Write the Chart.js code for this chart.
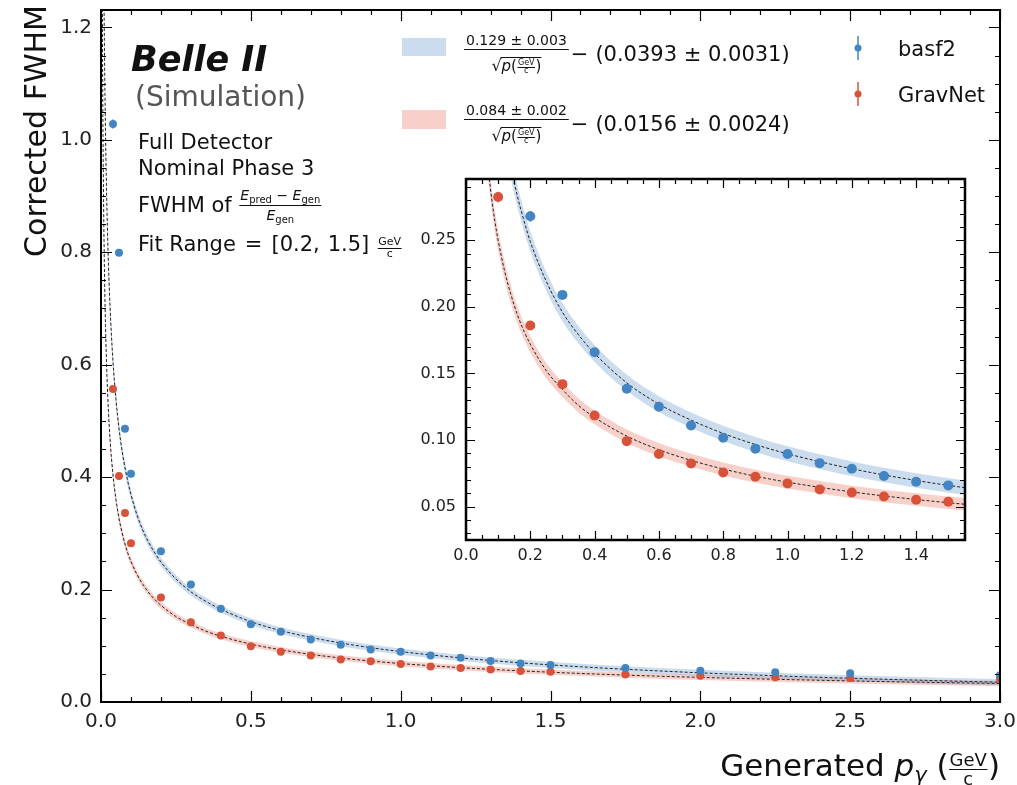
<!DOCTYPE html>
<html>
<head>
<meta charset="utf-8">
<script src="https://cdn.jsdelivr.net/npm/chart.js@4.4.1/dist/chart.umd.min.js"></script>
<style>
  html, body { margin: 0; padding: 0; background: #fff; }
  #wrap { position: relative; width: 1017px; height: 785px; }
  #main { position: absolute; left: 0; top: 0; }
  #inset { position: absolute; left: 400px; top: 170px; }
</style>
</head>
<body>
<div id="wrap">
  <canvas id="main" width="1017" height="785"></canvas>
  <canvas id="inset" width="575" height="395"></canvas>
</div>
<script>
// =============================================================================
// data
// =============================================================================
const pointX      = [0.04, 0.06, 0.08, 0.10, 0.2, 0.3, 0.4, 0.5, 0.6, 0.7, 0.8, 0.9, 1.0, 1.1, 1.2, 1.3, 1.4, 1.5, 1.75, 2.0, 2.25, 2.5, 3.0];
const basf2Y      = [1.028, 0.799, 0.486, 0.406, 0.268, 0.209, 0.166, 0.1385, 0.125, 0.111, 0.1017, 0.0935, 0.0895, 0.0827, 0.0785, 0.073, 0.0687, 0.066, 0.0605, 0.0558, 0.0528, 0.051, 0.0475];
const basf2Err    = [0.008, 0.004, 0.004, 0.006, 0.004, 0.002, 0.002, 0.0015, 0.0015, 0.0015, 0.0015, 0.0015, 0.0015, 0.0015, 0.0015, 0.0015, 0.0015, 0.0015, 0.0015, 0.0015, 0.0015, 0.002, 0.002];
const gravnetY    = [0.557, 0.402, 0.336, 0.2825, 0.186, 0.142, 0.1185, 0.0992, 0.0895, 0.0825, 0.0757, 0.0725, 0.0675, 0.063, 0.0607, 0.0577, 0.0552, 0.0537, 0.0487, 0.0469, 0.044, 0.0427, 0.041];
const gravnetErr  = [0.004, 0.003, 0.003, 0.004, 0.002, 0.0015, 0.0015, 0.001, 0.001, 0.001, 0.001, 0.001, 0.001, 0.001, 0.001, 0.001, 0.001, 0.001, 0.001, 0.001, 0.001, 0.0015, 0.0015];

// fit curves + band half widths
const fitX        = [0.004, 0.005, 0.006, 0.0075, 0.01, 0.0125, 0.015, 0.02, 0.025, 0.03, 0.04, 0.05, 0.06, 0.07, 0.08, 0.09, 0.1, 0.12, 0.14, 0.16, 0.18, 0.2, 0.25, 0.3, 0.35, 0.4, 0.5, 0.6, 0.7, 0.8, 0.9, 1.0, 1.2, 1.4, 1.6, 1.8, 2.0, 2.25, 2.5, 2.75, 3.0];
const basf2Fit    = [2.000, 1.785, 1.626, 1.450, 1.251, 1.115, 1.014, 0.873, 0.777, 0.705, 0.606, 0.538, 0.487, 0.448, 0.417, 0.391, 0.369, 0.333, 0.305, 0.283, 0.265, 0.249, 0.219, 0.196, 0.179, 0.165, 0.143, 0.127, 0.115, 0.105, 0.0967, 0.0897, 0.0785, 0.0697, 0.0627, 0.0569, 0.0519, 0.0467, 0.0423, 0.0385, 0.0352];
const basf2Band   = [0.05, 0.045, 0.04, 0.036, 0.03, 0.027, 0.025, 0.021, 0.019, 0.017, 0.015, 0.013, 0.012, 0.011, 0.0105, 0.01, 0.0095, 0.009, 0.0085, 0.008, 0.0078, 0.0075, 0.007, 0.0067, 0.0065, 0.0063, 0.006, 0.006, 0.0058, 0.0057, 0.0056, 0.0056, 0.0055, 0.0055, 0.0055, 0.0055, 0.0055, 0.0055, 0.0055, 0.0055, 0.0055];
const gravnetFit  = [1.313, 1.172, 1.069, 0.954, 0.824, 0.736, 0.670, 0.578, 0.516, 0.469, 0.404, 0.360, 0.327, 0.302, 0.281, 0.264, 0.250, 0.227, 0.209, 0.194, 0.182, 0.172, 0.152, 0.138, 0.126, 0.117, 0.103, 0.0928, 0.0848, 0.0783, 0.0729, 0.0684, 0.0611, 0.0554, 0.0508, 0.0470, 0.0438, 0.0404, 0.0375, 0.0351, 0.0329];
const gravnetBand = [0.035, 0.031, 0.028, 0.025, 0.021, 0.019, 0.017, 0.015, 0.013, 0.012, 0.0105, 0.0095, 0.009, 0.0085, 0.008, 0.0078, 0.0075, 0.007, 0.0067, 0.0064, 0.0062, 0.006, 0.0057, 0.0055, 0.0053, 0.0052, 0.005, 0.005, 0.0049, 0.0048, 0.0048, 0.0048, 0.0047, 0.0047, 0.0047, 0.0047, 0.0047, 0.0047, 0.0047, 0.0047, 0.0047];

// tick labels
const mainXTicks  = [0, 0.5, 1.0, 1.5, 2.0, 2.5, 3.0];
const mainYTicks  = [0, 0.2, 0.4, 0.6, 0.8, 1.0, 1.2];
const insetXTicks = [0, 0.2, 0.4, 0.6, 0.8, 1.0, 1.2, 1.4];
const insetYTicks = [0.05, 0.10, 0.15, 0.20, 0.25];

// =============================================================================
// styles
// =============================================================================
const BLUE = "rgb(66,133,194)";
const RED = "rgb(216,82,58)";
const BLUE_BAND = "rgba(80,140,200,0.3)";
const RED_BAND = "rgba(232,100,80,0.3)";
const FONT = '"DejaVu Sans"';
const F = (size, style) => `${style || ""} ${size}px ${FONT}`.trim();

function steps(from, to, step) {
    const out = [];
    for (let v = from; v <= to + 1e-9; v += step) out.push(+v.toFixed(4));
    return out;
}

// =============================================================================
// datasets
// =============================================================================
function buildDatasets(radius) {
    const pts = (ys) => pointX.map((x, i) => ({ x, y: ys[i] }));
    const curve = (ys, off, sign) => fitX.map((x, i) => ({ x, y: ys[i] + sign * (off ? off[i] : 0) }));
    const bandLine = { borderWidth: 0, pointRadius: 0, cubicInterpolationMode: "monotone", order: 3 };
    const fitLine = { borderColor: "#222", borderWidth: 1, borderDash: [3, 2], pointRadius: 0, fill: false, cubicInterpolationMode: "monotone", order: 2 };
    const marker = (c) => ({ showLine: false, pointRadius: radius, pointBackgroundColor: c, pointBorderColor: c, pointBorderWidth: 0, clip: 0, order: 1 });
    return [
        { ...bandLine, data: curve(basf2Fit, basf2Band, -1), fill: false },
        { ...bandLine, data: curve(basf2Fit, basf2Band, 1), fill: "-1", backgroundColor: BLUE_BAND },
        { ...bandLine, data: curve(gravnetFit, gravnetBand, -1), fill: false },
        { ...bandLine, data: curve(gravnetFit, gravnetBand, 1), fill: "-1", backgroundColor: RED_BAND },
        { ...fitLine, data: curve(basf2Fit, null, 0) },
        { ...fitLine, data: curve(gravnetFit, null, 0) },
        { ...marker(BLUE), data: pts(basf2Y), errY: basf2Err, errColor: BLUE },
        { ...marker(RED), data: pts(gravnetY), errY: gravnetErr, errColor: RED },
    ];
}

// =============================================================================
// small text layout helper (fractions, sub/superscripts, sqrt)
// =============================================================================
function partWidth(ctx, p) {
    if (p.frac) return Math.max(rowWidth(ctx, p.frac[0]), rowWidth(ctx, p.frac[1])) + 2 * (p.pad ?? 3);
    if (p.sqrt) { ctx.font = p.font; return ctx.measureText("√").width + rowWidth(ctx, p.sqrt); }
    ctx.font = p.font;
    return ctx.measureText(p.t).width + (p.gap || 0);
}
function rowWidth(ctx, parts) {
    return parts.reduce((s, p) => s + partWidth(ctx, p), 0);
}
function drawRow(ctx, parts, x, y) {
    let cx = x;
    parts.forEach((p) => {
        const w = partWidth(ctx, p);
        if (p.frac) {
            const [num, den] = p.frac;
            const pad = p.pad ?? 3;
            drawRow(ctx, num, cx + (w - rowWidth(ctx, num)) / 2, y + p.numY);
            drawRow(ctx, den, cx + (w - rowWidth(ctx, den)) / 2, y + p.denY);
            ctx.fillRect(cx + pad / 2, y + p.barY, w - pad, p.barW || 1);
        } else if (p.sqrt) {
            ctx.font = p.font;
            const ws = ctx.measureText("√").width;
            ctx.fillText("√", cx, y);
            drawRow(ctx, p.sqrt, cx + ws, y);
            ctx.fillRect(cx + ws - 1, y + p.topY, w - ws + 1, 1);
        } else {
            ctx.font = p.font;
            ctx.fillText(p.t, cx, y + (p.dy || 0));
        }
        cx += w;
    });
}

// =============================================================================
// plugins
// =============================================================================
const errorBars = {
    id: "errorBars",
    afterDatasetsDraw(chart) {
        const { ctx, chartArea: a, scales: { x, y } } = chart;
        ctx.save();
        ctx.beginPath();
        ctx.rect(a.left, a.top, a.right - a.left, a.bottom - a.top);
        ctx.clip();
        chart.data.datasets.forEach((ds) => {
            if (!ds.errY) return;
            ctx.strokeStyle = ds.errColor;
            ctx.lineWidth = 1.5;
            ds.data.forEach((d, i) => {
                const px = x.getPixelForValue(d.x);
                ctx.beginPath();
                ctx.moveTo(px, y.getPixelForValue(d.y - ds.errY[i]));
                ctx.lineTo(px, y.getPixelForValue(d.y + ds.errY[i]));
                ctx.stroke();
            });
        });
        ctx.restore();
    },
};

function drawFrame(chart, xMajor, xMinor, yMajor, yMinor, bigLen, smallLen, frameWidth) {
    const { ctx, chartArea: a, scales: { x, y } } = chart;
    ctx.save();
    ctx.strokeStyle = "#000";
    ctx.lineWidth = 1.2;
    ctx.beginPath();
    const vTicks = (vals, len) => vals.forEach((v) => {
        const px = Math.round(x.getPixelForValue(v)) + 0.5;
        ctx.moveTo(px, a.bottom); ctx.lineTo(px, a.bottom - len);
        ctx.moveTo(px, a.top); ctx.lineTo(px, a.top + len);
    });
    const hTicks = (vals, len) => vals.forEach((v) => {
        const py = Math.round(y.getPixelForValue(v)) + 0.5;
        ctx.moveTo(a.left, py); ctx.lineTo(a.left + len, py);
        ctx.moveTo(a.right, py); ctx.lineTo(a.right - len, py);
    });
    vTicks(xMajor, bigLen); vTicks(xMinor, smallLen);
    hTicks(yMajor, bigLen); hTicks(yMinor, smallLen);
    ctx.stroke();
    ctx.lineWidth = frameWidth;
    ctx.strokeRect(a.left, a.top, a.right - a.left, a.bottom - a.top);
    ctx.restore();
}

const mainDecor = {
    id: "mainDecor",
    afterDraw(chart) {
        const ctx = chart.ctx;
        drawFrame(chart, mainXTicks, steps(0, 3, 0.1), mainYTicks, steps(0, 1.2, 0.05), 11, 5, 2);

        ctx.save();
        ctx.fillStyle = "#111";
        ctx.textBaseline = "alphabetic";
        ctx.textAlign = "left";

        // experiment label
        ctx.font = F(35, "italic bold");
        ctx.fillText("Belle II", 131, 71);
        ctx.fillStyle = "#555";
        ctx.font = F(28);
        ctx.fillText("(Simulation)", 135, 106);
        ctx.fillStyle = "#111";
        ctx.font = F(21);
        ctx.fillText("Full Detector", 138, 149);
        ctx.fillText("Nominal Phase 3", 138, 175);
        drawRow(ctx, [
            { t: "FWHM of ", font: F(21) },
            { frac: [
                [{ t: "E", font: F(14, "italic") }, { t: "pred", font: F(10), dy: 3 }, { t: " − ", font: F(14) },
                 { t: "E", font: F(14, "italic") }, { t: "gen", font: F(10), dy: 3 }],
                [{ t: "E", font: F(14, "italic") }, { t: "gen", font: F(10), dy: 3 }],
            ], numY: -12, denY: 8, barY: -7, pad: 2 },
        ], 138, 212);
        drawRow(ctx, [
            { t: "Fit Range", font: F(21), gap: 9 },
            { t: "=", font: F(21), gap: 9 },
            { t: "[0.2,", font: F(21), gap: 8 },
            { t: "1.5]", font: F(21), gap: 8 },
            { frac: [[{ t: "GeV", font: F(11) }], [{ t: "c", font: F(11) }]], numY: -6, denY: 6, barY: -3, pad: 1 },
        ], 138, 251);

        // fit legend
        const fitRow = (num, rest, y) => drawRow(ctx, [
            { frac: [
                [{ t: num, font: F(14) }],
                [{ sqrt: [{ t: "p", font: F(15, "italic") }, { t: "(", font: F(15) },
                          { frac: [[{ t: "GeV", font: F(8) }], [{ t: "c", font: F(8) }]], numY: -6, denY: 2, barY: -4, pad: 1 },
                          { t: ")", font: F(15) }], font: F(16), topY: -14 }],
            ], numY: -16, denY: 10, barY: -12, pad: 4 },
            { t: "−", font: F(21), gap: 7 },
            { t: rest, font: F(21) },
        ], 462, y);
        ctx.fillStyle = BLUE_BAND;
        ctx.fillRect(402, 38, 44, 18);
        ctx.fillStyle = RED_BAND;
        ctx.fillRect(402, 110, 44, 19);
        ctx.fillStyle = "#111";
        fitRow("0.129 ± 0.003", "(0.0393 ± 0.0031)", 61);
        fitRow("0.084 ± 0.002", "(0.0156 ± 0.0024)", 131);

        // marker legend
        const markerEntry = (color, label, y) => {
            ctx.strokeStyle = color;
            ctx.lineWidth = 1.5;
            ctx.beginPath();
            ctx.moveTo(858, y - 12); ctx.lineTo(858, y + 12);
            ctx.stroke();
            ctx.fillStyle = color;
            ctx.beginPath();
            ctx.arc(858, y, 3.5, 0, Math.PI * 2);
            ctx.fill();
            ctx.fillStyle = "#111";
            ctx.font = F(21);
            ctx.fillText(label, 898, y + 8);
        };
        markerEntry(BLUE, "basf2", 48);
        markerEntry(RED, "GravNet", 94);

        // axis titles
        ctx.save();
        ctx.translate(46, 5);
        ctx.rotate(-Math.PI / 2);
        ctx.textAlign = "right";
        ctx.font = F(30);
        ctx.fillText("Corrected FWHM", 0, 0);
        ctx.restore();

        const xTitle = [
            { t: "Generated ", font: F(31) },
            { t: "p", font: F(31, "italic") },
            { t: "γ", font: F(21, "italic"), dy: 6 },
            { t: " (", font: F(31) },
            { frac: [[{ t: "GeV", font: F(18) }], [{ t: "c", font: F(18) }]], numY: -10, denY: 9, barY: -7, pad: 1 },
            { t: ")", font: F(31) },
        ];
        drawRow(ctx, xTitle, 1000 - rowWidth(ctx, xTitle), 776);
        ctx.restore();
    },
};

const insetDecor = {
    id: "insetDecor",
    beforeDatasetsDraw(chart) {
        const { ctx, chartArea: a } = chart;
        ctx.save();
        ctx.fillStyle = "#fff";
        ctx.fillRect(a.left, a.top, a.right - a.left, a.bottom - a.top);
        ctx.restore();
    },
    afterDraw(chart) {
        drawFrame(chart, insetXTicks, steps(0, 1.55, 0.05), insetYTicks, steps(0.03, 0.29, 0.01), 9, 5, 2.5);
    },
};

// =============================================================================
// charts
// =============================================================================
// axis with fixed thickness; edge label overflow is dropped so the plot box
// lands where the layout padding puts it
function axis(min, max, ticks, digits, size, padding, thickness, horizontal) {
    return {
        type: "linear",
        min, max,
        grid: { display: false, drawTicks: false },
        border: { display: false },
        ticks: {
            font: { family: "DejaVu Sans", size },
            color: "#222",
            padding,
            maxRotation: 0,
            autoSkip: false,
            callback: (v) => Number(v).toFixed(digits),
        },
        afterBuildTicks: (s) => { s.ticks = ticks.map((v) => ({ value: v })); },
        afterFit: (s) => {
            if (horizontal) s.height = thickness; else s.width = thickness;
            s.paddingLeft = s.paddingRight = s.paddingTop = s.paddingBottom = 0;
        },
    };
}

new Chart(document.getElementById("main"), {
    type: "line",
    data: { datasets: buildDatasets(4) },
    options: {
        responsive: false,
        animation: false,
        layout: { padding: { top: 10, right: 17, left: 0, bottom: 0 } },
        plugins: { legend: { display: false }, tooltip: { enabled: false } },
        scales: {
            x: axis(0, 3, mainXTicks, 1, 20, 8, 83, true),
            y: axis(0, 1.231, mainYTicks, 1, 20, 9, 101, false),
        },
    },
    plugins: [errorBars, mainDecor],
});

new Chart(document.getElementById("inset"), {
    type: "line",
    data: { datasets: buildDatasets(5) },
    options: {
        responsive: false,
        animation: false,
        layout: { padding: { top: 9, right: 10, left: 0, bottom: 0 } },
        plugins: { legend: { display: false }, tooltip: { enabled: false } },
        scales: {
            x: axis(0, 1.552, insetXTicks, 1, 16, 6, 25, true),
            y: axis(0.025, 0.296, insetYTicks, 2, 16, 10, 66, false),
        },
    },
    plugins: [errorBars, insetDecor],
});
</script>
</body>
</html>
